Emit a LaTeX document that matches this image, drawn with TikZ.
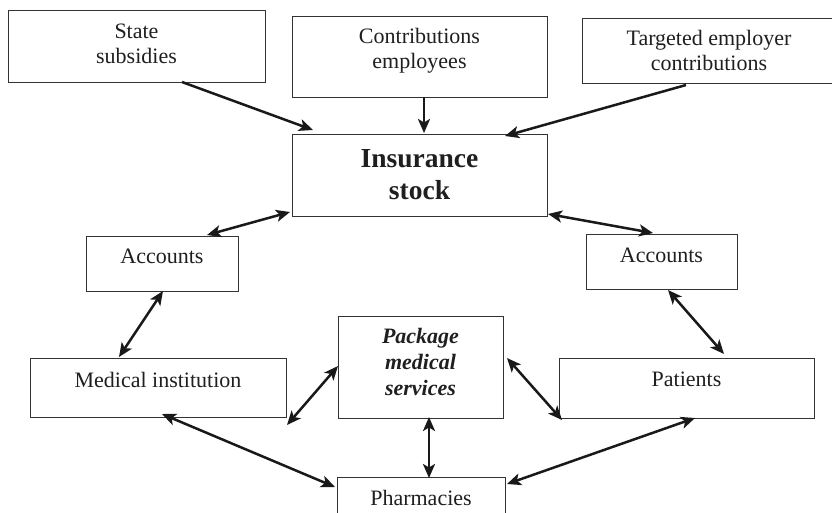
\documentclass[tikz,border=0pt]{standalone}
\usepackage{fontspec}
\setmainfont{Liberation Serif}
\usetikzlibrary{arrows.meta}

\begin{document}
\begin{tikzpicture}[x=1pt,y=-1pt,
  box/.style={draw=black!80, line width=1pt, rectangle, inner sep=0pt, outer sep=0pt},
  boxtext/.style={align=center, inner sep=0pt, text=black!88,
    font={\fontsize{22}{24.5}\selectfont}},
  headtext/.style={boxtext, font={\fontsize{27.5}{32}\selectfont\bfseries}},
  pkgtext/.style={boxtext, font={\fontsize{22}{26}\selectfont\bfseries\itshape}},
  tip/.tip={Stealth[length=14pt,width=12pt,inset=3.5pt]},
  oneway/.style={line width=2.5pt, draw=black!90, -tip},
  twoway/.style={line width=2.5pt, draw=black!90, tip-tip}]

\clip (0,0) rectangle (832,512);
\fill[white] (0,0) rectangle (832,512);

% sources of money
\node[box, minimum width=257pt, minimum height=72pt,
  label={[boxtext, yshift=2pt]center:{State\\subsidies}}] (state) at (136.5,46) {};
\node[box, minimum width=255pt, minimum height=81pt,
  label={[boxtext, yshift=6pt]center:{Contributions\\employees}}] (contrib) at (419.5,56.5) {};
\node[box, minimum width=254pt, minimum height=65pt,
  label={[boxtext]center:{Targeted employer\\contributions}}] (target) at (709,50.5) {};

% central fund
\node[box, minimum width=255pt, minimum height=82pt,
  label={[headtext]center:{Insurance\\stock}}] (ins) at (419.5,175) {};

% accounts
\node[box, minimum width=152pt, minimum height=55pt,
  label={[boxtext, yshift=7pt]center:{Accounts}}] (accl) at (162,263.5) {};
\node[box, minimum width=151pt, minimum height=55pt,
  label={[boxtext, yshift=6pt]center:{Accounts}}] (accr) at (661.5,261.5) {};

% lower row
\node[box, minimum width=256pt, minimum height=59pt,
  label={[boxtext, yshift=8pt]center:{Medical institution}}] (med) at (158,387.5) {};
\node[box, minimum width=165pt, minimum height=102pt,
  label={[pkgtext, yshift=5.5pt]center:{Package\\medical\\services}}] (pkg) at (420.5,367) {};
\node[box, minimum width=255pt, minimum height=60pt,
  label={[boxtext, yshift=8.5pt]center:{Patients}}] (pat) at (686.5,388) {};
\node[box, minimum width=168pt, minimum height=57pt,
  label={[boxtext, yshift=8pt]center:{Pharmacies}}] (phar) at (421,505.5) {};

% flows into the insurance stock
\draw[oneway] ([xshift=174pt]state.south west) -- ([xshift=21pt,yshift=4pt]ins.north west);
\draw[oneway] ([xshift=4.5pt]contrib.south) -- ([xshift=4.5pt,yshift=1pt]ins.north);
\draw[oneway] ([xshift=104pt,yshift=-2pt]target.south west) -- ([xshift=-42pt,yshift=-2pt]ins.north east);

% two-way links
\draw[twoway] ([xshift=121pt,yshift=1pt]accl.north west) -- ([xshift=-2pt,yshift=4pt]ins.south west);
\draw[twoway] ([xshift=1pt,yshift=2pt]ins.south east) -- ([xshift=67pt,yshift=1pt]accr.north west);
\draw[twoway] ([xshift=77pt]accl.south west) -- ([xshift=89pt,yshift=1pt]med.north west);
\draw[twoway] ([xshift=82pt,yshift=-1pt]accr.south west) -- ([xshift=165pt,yshift=4pt]pat.north west);
\draw[twoway] ([xshift=1pt,yshift=-8pt]med.south east) -- ([yshift=1pt]pkg.west);
\draw[twoway] ([xshift=4pt,yshift=9pt]pkg.east) -- ([xshift=3pt,yshift=-2pt]pat.south west);
\draw[twoway] ([xshift=8.5pt,yshift=1pt]pkg.south) -- ([xshift=8pt,yshift=-1pt]phar.north);
\draw[twoway] ([xshift=132pt,yshift=3pt]med.south west) -- ([xshift=-2pt,yshift=-10pt]phar.north west);
\draw[twoway] ([xshift=136pt]pat.south west) -- ([xshift=2pt,yshift=-7pt]phar.north east);

\end{tikzpicture}
\end{document}
